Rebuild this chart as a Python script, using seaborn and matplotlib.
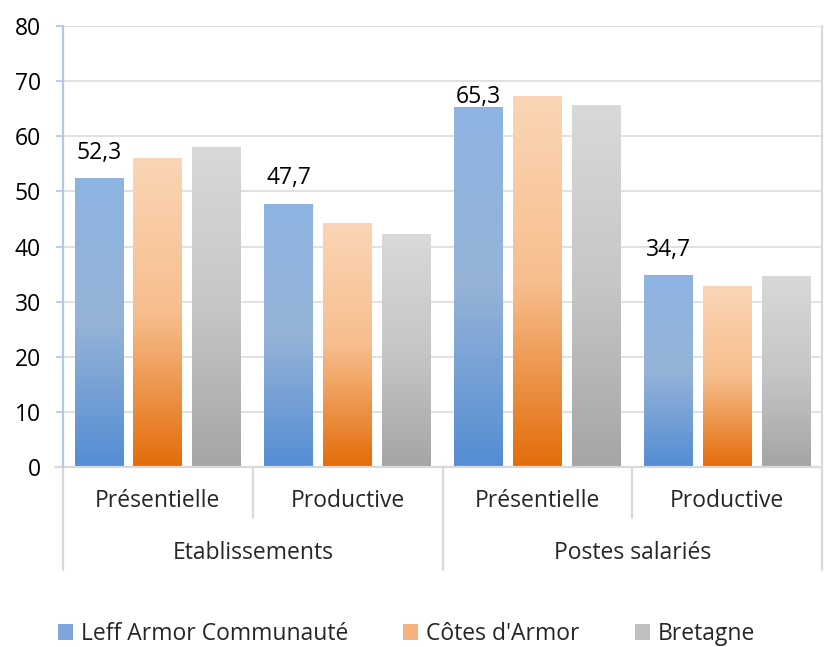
import matplotlib.pyplot as plt
import matplotlib.colors as mcolors
import matplotlib.transforms as mtransforms
from matplotlib.lines import Line2D
from matplotlib.patches import Patch
import numpy as np
import pandas as pd
import seaborn as sns

# données
groupes = ["Etablissements", "Etablissements", "Postes salariés", "Postes salariés"]
sous_categories = ["Présentielle", "Productive", "Présentielle", "Productive"]
territoires = ["Leff Armor Communauté", "Côtes d'Armor", "Bretagne"]
leff = [52.3, 47.7, 65.3, 34.7]
cotes = [56.0, 44.1, 67.3, 32.8]
bretagne = [58.0, 42.1, 65.6, 34.5]
etiquettes_leff = ["52,3", "47,7", "65,3", "34,7"]
y_ticks = [0, 10, 20, 30, 40, 50, 60, 70, 80]

# dégradés (bas, milieu, haut) par territoire
degrades = [
    ["#548DD4", "#95B3D7", "#8DB4E2"],
    ["#E36C09", "#F7BE8E", "#FBD5B5"],
    ["#A5A5A5", "#C6C6C6", "#D9D9D9"],
]
couleurs_legende = ["#7FA6DB", "#F4B27C", "#BFBFBF"]
decalages_px = [26, 26, 10, 26]
taille = 16.5

cles = [f"{g}|{s}" for g, s in zip(groupes, sous_categories)]
df = pd.DataFrame({
    "categorie": cles * 3,
    "territoire": np.repeat(territoires, len(cles)),
    "valeur": leff + cotes + bretagne,
})

sns.set_theme(style="white")
plt.rcParams["font.family"] = ["Open Sans", "DejaVu Sans"]
plt.rcParams["font.size"] = taille

fig = plt.figure(figsize=(8.3, 6.47), dpi=100)
ax = fig.add_axes([63 / 830, (647 - 467) / 647, (822 - 63) / 830, 441 / 647])

sns.barplot(data=df, x="categorie", y="valeur", hue="territoire", hue_order=territoires,
            palette=couleurs_legende, width=0.93, gap=0.17, legend=False, ax=ax)

# remplacer chaque barre par un dégradé vertical
for i, container in enumerate(ax.containers):
    cmap = mcolors.LinearSegmentedColormap.from_list(f"g{i}", degrades[i])
    for bar in container:
        x0, w, h = bar.get_x(), bar.get_width(), bar.get_height()
        grad = np.linspace(0, 1, 256).reshape(-1, 1)
        ax.imshow(grad, extent=[x0, x0 + w, 0, h], origin="lower", aspect="auto",
                  cmap=cmap, zorder=2, interpolation="bicubic")
        bar.set_visible(False)

# étiquettes de la première série
for bar, txt, dy in zip(ax.containers[0], etiquettes_leff, decalages_px):
    ax.annotate(txt, (bar.get_x() + bar.get_width() / 2, bar.get_height()),
                xytext=(0, dy * 0.72), textcoords="offset points",
                ha="center", va="center", fontsize=taille, color="#000000", zorder=5)

ax.set_xlim(-0.5, len(cles) - 0.5)
ax.set_ylim(0, 80)
ax.set_yticks(y_ticks)
ax.set_xticks([])
ax.set_xlabel("")
ax.set_ylabel("")
ax.grid(axis="y", color="#D9D9D9", linewidth=1.1, zorder=0)
ax.set_axisbelow(True)

for side in ["top", "right", "bottom"]:
    ax.spines[side].set_visible(False)
ax.spines["left"].set_color("#B4C9EA")
ax.spines["left"].set_linewidth(1.6)
ax.spines["left"].set_zorder(3)
ax.tick_params(axis="y", which="major", left=True, length=5, width=1.3,
               color="#B4C9EA", pad=11, labelsize=taille, labelcolor="#000000")

# axe des catégories à deux niveaux
trans = mtransforms.blended_transform_factory(ax.transData, ax.transAxes)
gris = "#D9D9D9"
ax.add_line(Line2D([-0.54, 3.5], [0, 0], transform=trans, color=gris, lw=1.6,
                   clip_on=False, zorder=3))
ax.add_line(Line2D([3.5, 3.5], [0, 1], transform=trans, color=gris, lw=1.6,
                   clip_on=False, zorder=1))
for xs, bas in [(-0.5, -0.234), (0.5, -0.116), (1.5, -0.234), (2.5, -0.116), (3.5, -0.234)]:
    ax.add_line(Line2D([xs, xs], [0, bas], transform=trans, color=gris, lw=1.6,
                       clip_on=False))

for i, s in enumerate(sous_categories):
    ax.text(i, -0.077, s, transform=trans, ha="center", va="center", fontsize=taille)
noms_groupes = list(dict.fromkeys(groupes))
for j, g in enumerate(noms_groupes):
    idx = [i for i, gg in enumerate(groupes) if gg == g]
    ax.text(np.mean(idx), -0.196, g, transform=trans, ha="center", va="center",
            fontsize=taille)

handles = [Patch(facecolor=c, edgecolor="none") for c in couleurs_legende]
fig.legend(handles, territoires, loc="center", bbox_to_anchor=(0.49, 0.02), ncol=3,
           frameon=False, fontsize=taille, handlelength=0.65, handleheight=0.65,
           handletextpad=0.35, columnspacing=2.4)

fig.savefig("out.png", dpi=100)
